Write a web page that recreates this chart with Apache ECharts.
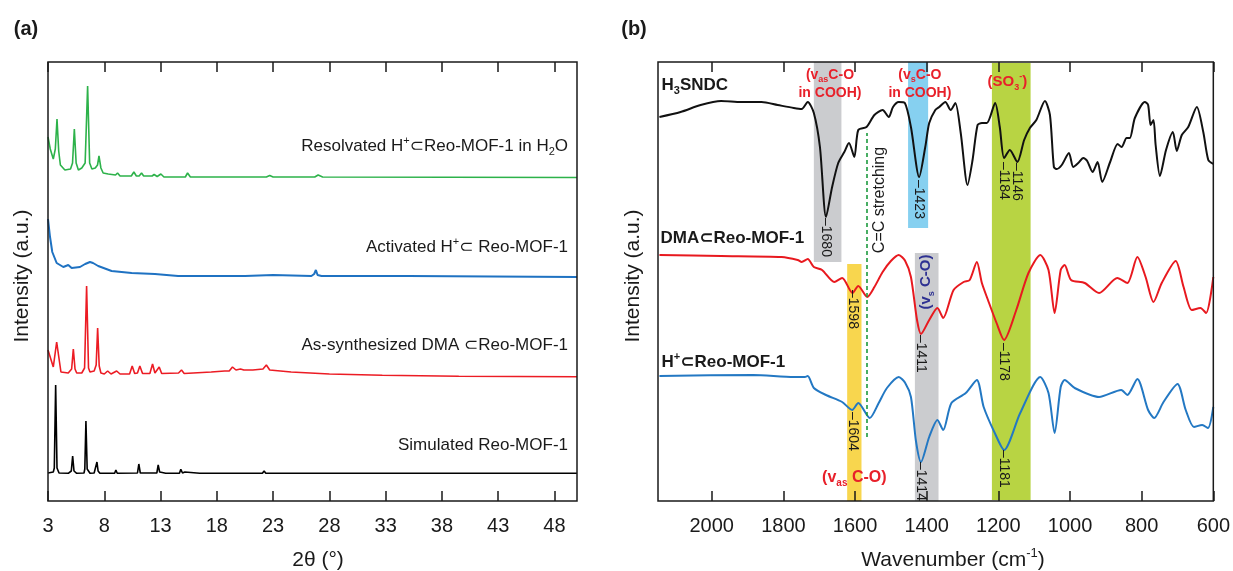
<!DOCTYPE html>
<html>
<head>
<meta charset="utf-8">
<title>Reo-MOF-1 PXRD and FTIR</title>
<script src="https://cdn.jsdelivr.net/npm/echarts@6/dist/echarts.min.js"></script>
<style>
  html, body { margin: 0; padding: 0; background: #fff; }
  #chart { width: 1233px; height: 571px; }
</style>
</head>
<body>
<div id="chart"></div>
<script>
// ---- (a) PXRD, [2θ, intensity (a.u., stacked offsets)] ----
const xrdTicks = [3, 8, 13, 18, 23, 28, 33, 38, 43, 48];

const resolvatedXrd = [[3.0,364],[3.2,352],[3.47,342],[3.65,352],[3.8,382],[3.95,350],[4.1,336],[4.5,331],[5.0,332],[5.18,338],[5.34,372],[5.5,338],[5.7,331],[6.0,333],[6.3,338],[6.52,415],[6.7,338],[6.9,332],[7.2,333],[7.4,336],[7.53,345],[7.7,333],[7.9,328],[8.35,327],[9.0,326],[9.18,328],[9.4,325],[10.4,325],[10.63,329],[10.85,325],[11.1,325],[11.31,328],[11.5,325],[12.25,325],[12.43,326.5],[12.7,324.5],[13.03,327],[13.3,324],[15.2,324],[15.4,328],[15.65,324],[22.4,324],[22.7,325.5],[23.0,324],[26.7,324],[27.0,326],[27.4,324],[50,323.5]];

const activatedXrd = [[3.0,282],[3.18,264],[3.38,249],[3.77,238],[4.36,234],[4.8,236],[5.1,233],[5.84,234],[6.3,237],[6.73,239],[7.0,238],[7.46,235],[8.65,230],[10.43,228],[12.5,227],[14.56,225],[17.5,225],[20.5,225],[23,226],[26.4,225],[26.65,227],[26.8,231],[26.95,226],[27.3,225],[35,225],[50,224]];

const dmaXrd = [[3.0,151],[3.47,134],[3.77,159],[4.15,129],[4.8,128],[5.1,132],[5.25,152],[5.4,132],[5.55,128],[6.0,128],[6.25,133],[6.43,215],[6.6,133],[6.73,129],[7.1,130],[7.28,136],[7.41,173],[7.55,135],[7.7,128],[8.0,127],[8.3,130],[8.6,127],[9.1,130],[9.4,127],[10.25,127],[10.48,135],[10.7,127.5],[10.95,128],[11.16,135],[11.4,127.5],[12.05,127.5],[12.29,137],[12.5,128],[12.88,134],[13.1,127.5],[14.6,128],[14.86,131],[15.1,127.5],[17.5,129],[18.7,130],[19.1,130],[19.39,134],[19.7,131],[20.1,132],[20.4,131],[21.2,131],[22.1,132],[22.4,136],[22.7,131],[24.6,129],[28,127],[32.7,125.7],[39.5,124.7],[50,124.3]];

const simulatedXrd = [[3.0,28],[3.47,29],[3.56,33],[3.68,116],[3.8,33],[3.98,28],[4.8,27.7],[5.07,30],[5.19,45],[5.31,30],[5.55,27.7],[6.2,28],[6.27,32],[6.37,80],[6.48,32],[6.73,27.7],[7.1,28],[7.26,30],[7.35,39],[7.45,30],[7.61,27.7],[8.92,27.7],[9.03,31],[9.15,27.7],[10.95,28],[11.07,37],[11.2,28],[12.67,28],[12.79,36],[12.92,29],[13.15,28.5],[13.32,30.5],[13.45,27.7],[14.68,27.7],[14.8,31.7],[14.95,28],[15.16,29],[15.3,27.7],[16.48,27.7],[16.58,29],[16.7,27.7],[18.6,27.7],[18.7,28.5],[18.8,27.7],[19.9,27.7],[20.0,29],[20.1,27.7],[22.05,27.7],[22.2,30],[22.35,27.7],[26.5,27.7],[26.6,29],[26.7,27.7],[28.9,27.7],[29.0,28.6],[29.1,27.7],[34.2,27.7],[34.3,28.3],[34.4,27.7],[43.9,27.7],[44.0,28.3],[44.1,27.7],[50,27.7]];

// [2θ, intensity, text] - right-aligned curve names
const xrdLabels = [
  [49.2, 355, 'Resolvated H{sup|+}⊂Reo-MOF-1 in H{sub|2}O'],
  [49.2, 254, 'Activated H{sup|+}⊂ Reo-MOF-1'],
  [49.2, 156, 'As-synthesized DMA ⊂Reo-MOF-1'],
  [49.2, 56, 'Simulated Reo-MOF-1']
];

// ---- (b) FTIR, [wavenumber, transmittance (a.u., stacked offsets)] ----
const irTicks = [600, 800, 1000, 1200, 1400, 1600, 1800, 2000];

const h3sndcIr = [[2146,384],[2087,389],[2031,396],[1974,400],[1918,399],[1861,399],[1816,396],[1771,393],[1749,392],[1732,399],[1715,388],[1698,354],[1681,284],[1664,314],[1647,338],[1630,349],[1617,358],[1602,344],[1591,371],[1568,374],[1546,386],[1523,391],[1506,384],[1494,394],[1478,399],[1461,398],[1444,374],[1421,324],[1404,354],[1393,378],[1376,391],[1365,394],[1348,399],[1333,391],[1320,398],[1305,368],[1286,316],[1272,341],[1258,376],[1246,378],[1232,378],[1209,398],[1196,374],[1184,343],[1168,351],[1147,339],[1128,361],[1112,373],[1094,381],[1070,400],[1056,386],[1045,334],[1037,332],[1023,336],[1003,348],[991,334],[977,338],[963,343],[952,340],[937,329],[923,339],[910,319],[888,339],[867,357],[856,354],[842,363],[833,363],[819,383],[791,399],[782,396],[775,376],[767,381],[761,356],[749,325],[732,351],[713,369],[702,350],[688,366],[670,374],[646,394],[628,369],[614,341],[600,337]];

const dmaIr = [[2146,246],[1974,245],[1805,244],[1760,241],[1749,239],[1732,242],[1715,234],[1692,231],[1658,219],[1636,223],[1607,208],[1591,215],[1566,204],[1546,214],[1523,229],[1500,240],[1478,246],[1460,240],[1444,224],[1427,181],[1416,167],[1393,181],[1370,193],[1354,183],[1325,211],[1297,219],[1280,221],[1260,239],[1246,218],[1229,201],[1205,178],[1184,161],[1150,191],[1116,228],[1083,246],[1060,231],[1043,188],[1026,231],[1015,236],[997,221],[959,218],[919,208],[868,223],[840,218],[812,244],[789,224],[767,199],[744,218],[705,240],[683,214],[660,191],[636,193],[620,188],[600,224]];

const hReoIr = [[2146,125],[1884,126],[1771,124],[1740,124],[1732,125],[1715,113],[1681,106],[1636,99],[1608,91],[1591,98],[1559,83],[1534,98],[1511,113],[1478,124],[1460,118],[1444,104],[1430,60],[1416,39],[1393,64],[1370,81],[1354,71],[1331,98],[1291,108],[1260,121],[1241,94],[1210,68],[1184,51],[1139,88],[1083,124],[1060,108],[1043,68],[1026,114],[1015,121],[987,113],[919,104],[857,111],[840,106],[812,122],[782,91],[765,83],[739,99],[700,117],[677,91],[654,74],[631,76],[615,73],[600,94]];

// highlighted bands: [from, to, low, high]
const irBands = [
  [1715, 1638, 239, 439],
  [1622, 1582, 0, 237],
  [1452, 1396, 273, 439],
  [1433, 1367, 0, 248],
  [1218, 1110, 1, 438]
];
const bandColors = ['#cbcccf', '#f8d64e', '#86d0f0', '#cbcccf', '#b8d443'];

// C=C stretching guide: [wavenumber, low, high]
const ccLine = [1566, 64, 368];

// [wavenumber, top of label, text]
const peakLabels = [
  [1681, 283, '1680'], [1422, 321, '1423'], [1184, 339, '1184'], [1147, 338, '1146'],
  [1607, 211, '1598'], [1415, 166, '1411'], [1184, 158, '1178'],
  [1607, 89, '1604'], [1415, 39, '1414'], [1184, 51, '1181']
];

const FONT = '"Liberation Sans", "DejaVu Sans", Arial, sans-serif';
const INK = '#1a1a1a';

const chart = echarts.init(document.getElementById('chart'));

const tick = values => ({ show: true, inside: true, length: 10, customValues: values, lineStyle: { color: INK, width: 1.5 } });

const xAxisFor = (grid, pos, min, max, inverse, ticks, labels) => ({
  gridIndex: grid, type: 'value', position: pos, min, max, inverse, z: 10,
  axisLine: { show: false },
  axisTick: tick(ticks),
  axisLabel: labels
    ? { show: true, customValues: ticks, margin: 15, fontSize: 20, color: INK, fontFamily: FONT, formatter: v => String(v) }
    : { show: false },
  splitLine: { show: false }
});

const line = (data, color, xi, yi, width, smooth, extra) => Object.assign({
  type: 'line', data, xAxisIndex: xi, yAxisIndex: yi, symbol: 'none', smooth,
  silent: true, animation: false, z: 3,
  lineStyle: { color, width }, itemStyle: { color }
}, extra || {});

chart.setOption({
  animation: false,
  backgroundColor: '#fff',
  grid: [
    { left: 48, top: 62, width: 529, height: 439, show: true, z: 10, borderColor: INK, borderWidth: 1.5, backgroundColor: 'transparent' },
    { left: 658, top: 62, width: 556, height: 439, show: true, z: 10, borderColor: INK, borderWidth: 1.5, backgroundColor: 'transparent' }
  ],
  xAxis: [
    xAxisFor(0, 'bottom', 3, 50, false, xrdTicks, true),
    xAxisFor(0, 'top', 3, 50, false, xrdTicks, false),
    xAxisFor(1, 'bottom', 600, 2150, true, irTicks, true),
    xAxisFor(1, 'top', 600, 2150, true, irTicks, false)
  ],
  yAxis: [
    { gridIndex: 0, type: 'value', min: 0, max: 439, show: false, splitLine: { show: false } },
    { gridIndex: 1, type: 'value', min: 0, max: 439, show: false, splitLine: { show: false } }
  ],
  series: [
    line(simulatedXrd, '#000000', 0, 0, 1.6, false),
    line(dmaXrd, '#ec1c24', 0, 0, 1.6, false),
    line(activatedXrd, '#1f72c2', 0, 0, 2, false),
    line(resolvatedXrd, '#2db24a', 0, 0, 1.6, false),
    line(h3sndcIr, '#111111', 2, 1, 2, 0.25, {
      markArea: {
        silent: true,
        data: irBands.map((b, i) => [
          { coord: [b[0], b[2]], itemStyle: { color: bandColors[i] } },
          { coord: [b[1], b[3]] }
        ])
      },
      markLine: {
        silent: true, symbol: 'none', label: { show: false },
        lineStyle: { color: '#1c9a3e', width: 1.6, type: [4, 3] },
        data: [[{ coord: [ccLine[0], ccLine[1]] }, { coord: [ccLine[0], ccLine[2]] }]]
      }
    }),
    line(dmaIr, '#e8191f', 2, 1, 2, 0.25),
    line(hReoIr, '#2378c3', 2, 1, 2, 0.25)
  ]
});

// ---- text annotations, anchored through the axes ----
const toA = p => chart.convertToPixel({ xAxisIndex: 0, yAxisIndex: 0 }, p);
const toB = p => chart.convertToPixel({ xAxisIndex: 2, yAxisIndex: 1 }, p);

function text(pos, str, o) {
  const size = o.size || 16;
  const color = o.color || INK;
  const weight = o.weight || 'normal';
  const small = Math.round(size * 0.62);
  const base = { fontFamily: FONT, fill: color, fontWeight: weight, fontSize: small, lineHeight: small };
  return {
    type: 'text', x: pos[0], y: pos[1], rotation: o.rotation || 0, z: 100, silent: true,
    style: {
      text: str, fill: color, fontSize: size, fontWeight: weight, fontFamily: FONT,
      lineHeight: o.lineHeight || Math.round(size * 1.3),
      align: o.align || 'center', verticalAlign: 'middle',
      textAlign: o.align || 'center', textVerticalAlign: 'middle',
      rich: {
        sub: Object.assign({}, base, { verticalAlign: 'bottom' }),
        sup: Object.assign({}, base, { verticalAlign: 'top' })
      }
    }
  };
}

const RED = '#e8202a';
const NAVY = '#2e3192';
const graphics = [
  text([26, 29], '(a)', { size: 20, weight: 'bold' }),
  text([634, 29], '(b)', { size: 20, weight: 'bold' }),
  text([318, 560], '2θ (°)', { size: 21 }),
  text([953, 560], 'Wavenumber (cm{sup|-1})', { size: 21 }),
  text([22, 276], 'Intensity (a.u.)', { size: 21, rotation: Math.PI / 2 }),
  text([633, 276], 'Intensity (a.u.)', { size: 21, rotation: Math.PI / 2 })
];

xrdLabels.forEach(l => graphics.push(text(toA([l[0], l[1]]), l[2], { size: 17, align: 'right' })));

graphics.push(
  text(toB([2140, 416]), 'H{sub|3}SNDC', { size: 17, weight: 'bold', align: 'left' }),
  text(toB([2143, 263]), 'DMA⊂Reo-MOF-1', { size: 17, weight: 'bold', align: 'left' }),
  text(toB([2140, 139]), 'H{sup|+}⊂Reo-MOF-1', { size: 17, weight: 'bold', align: 'left' }),
  text(toB([1670, 416.5]), '(v{sub|as}C-O\nin COOH)', { size: 14, weight: 'bold', color: RED, lineHeight: 18 }),
  text(toB([1419, 416.5]), '(v{sub|s}C-O\nin COOH)', { size: 14, weight: 'bold', color: RED, lineHeight: 18 }),
  text(toB([1175, 419]), '(SO{sub|3}{sup|-})', { size: 15, weight: 'bold', color: RED }),
  text(toB([1531, 301]), 'C=C stretching', { size: 16, rotation: Math.PI / 2 }),
  text(toB([1401, 219]), '(v{sub|s} C-O)', { size: 15, weight: 'bold', color: NAVY, rotation: Math.PI / 2 }),
  text(toB([1602, 23]), '(v{sub|as} C-O)', { size: 16, weight: 'bold', color: RED })
);

peakLabels.forEach(p => graphics.push(
  text(toB([p[0], p[1]]), '\u2013' + p[2], { size: 14, align: 'left', rotation: -Math.PI / 2 })
));

chart.setOption({ graphic: graphics });
</script>
</body>
</html>
